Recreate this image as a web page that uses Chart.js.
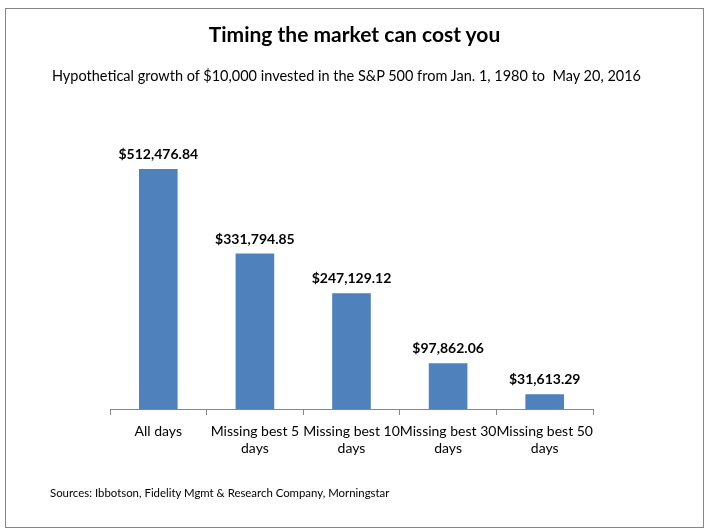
<!DOCTYPE html>
<html>
<head>
<meta charset="utf-8">
<script src="https://cdn.jsdelivr.net/npm/chart.js@4"></script>
<style>
  body { margin: 0; background: #fff; font-family: Lato, "Open Sans", sans-serif; }
  #wrap { position: relative; width: 709px; height: 531px; }
  #frame { position: absolute; left: 5px; top: 8px; width: 697px; height: 518px; border: 1px solid #868686; }
  #chartBox { position: absolute; left: 0; top: 0; width: 709px; height: 531px; }
  .txt { position: absolute; color: #000; white-space: nowrap; }
  #titulo { left: 0; width: 709px; text-align: center; top: 21px; font-size: 21px; font-weight: bold; }
  #subtitulo { left: 0; width: 693px; text-align: center; top: 67px; font-size: 14.5px; }
  #fuente { left: 50px; top: 486px; font-size: 11.4px; }
</style>
</head>
<body>
<div id="wrap">
  <div id="frame"></div>
  <div id="chartBox"><canvas id="grafica"></canvas></div>
  <div class="txt" id="titulo">Timing the market can cost you</div>
  <div class="txt" id="subtitulo">Hypothetical growth of $10,000 invested in the S&amp;P 500 from Jan. 1, 1980 to&nbsp; May 20, 2016</div>
  <div class="txt" id="fuente">Sources: Ibbotson, Fidelity Mgmt &amp; Research Company, Morningstar</div>
</div>
<script>
// datos
const categorias = [
  ["All days"],
  ["Missing best 5", "days"],
  ["Missing best 10", "days"],
  ["Missing best 30", "days"],
  ["Missing best 50", "days"]
];
const valores = [512476.84, 331794.85, 247129.12, 97862.06, 31613.29];
const yMax = 600000;

const colorBarra = "#4F81BD";
const colorEje = "#868686";
const fuente = "Lato, 'Open Sans', sans-serif";

const formatoDolar = (v) =>
  "$" + v.toLocaleString("en-US", { minimumFractionDigits: 2, maximumFractionDigits: 2 });

// etiquetas encima de las barras
const etiquetasBarras = {
  id: "etiquetasBarras",
  afterDatasetsDraw(chart) {
    const ctx = chart.ctx;
    const meta = chart.getDatasetMeta(0);
    ctx.save();
    ctx.font = "bold 14px " + fuente;
    ctx.fillStyle = "#000";
    ctx.textAlign = "center";
    ctx.textBaseline = "alphabetic";
    meta.data.forEach((bar, i) => {
      ctx.fillText(formatoDolar(valores[i]), bar.x, bar.y - 10);
    });
    ctx.restore();
  }
};

const ctx = document.getElementById("grafica");
new Chart(ctx, {
  type: "bar",
  data: {
    labels: categorias,
    datasets: [
      {
        data: valores,
        backgroundColor: colorBarra,
        hoverBackgroundColor: colorBarra,
        barPercentage: 0.4,
        categoryPercentage: 1
      }
    ]
  },
  options: {
    responsive: true,
    maintainAspectRatio: false,
    animation: false,
    layout: { padding: { left: 110, right: 116, top: 128, bottom: 62 } },
    plugins: {
      legend: { display: false },
      tooltip: { enabled: false }
    },
    scales: {
      x: {
        offset: true,
        afterFit: (scale) => { scale.height = 60; },
        border: { color: colorEje, width: 1 },
        grid: {
          display: true,
          drawOnChartArea: false,
          offset: true,
          tickLength: 6,
          color: colorEje
        },
        ticks: {
          color: "#000",
          padding: 8,
          maxRotation: 0,
          autoSkip: false,
          font: { family: fuente, size: 14, lineHeight: 1.2 }
        }
      },
      y: {
        display: false,
        min: 0,
        max: yMax
      }
    }
  },
  plugins: [etiquetasBarras]
});
</script>
</body>
</html>
